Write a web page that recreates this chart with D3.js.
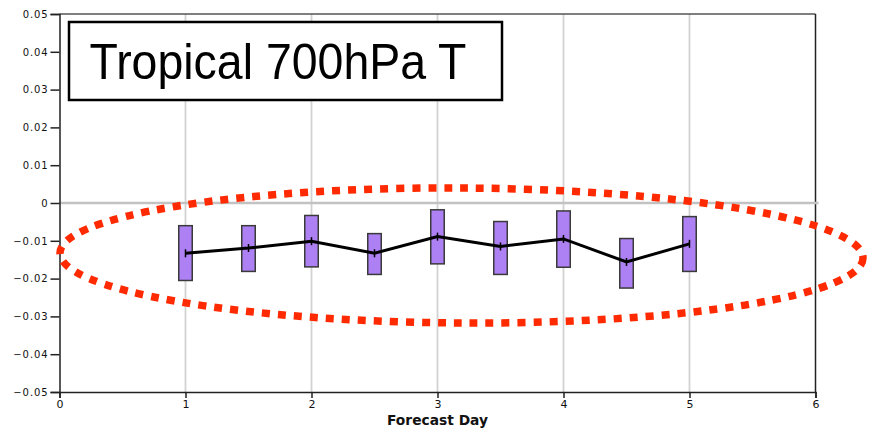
<!DOCTYPE html>
<html>
<head>
<meta charset="utf-8">
<script src="https://cdn.jsdelivr.net/npm/d3@7"></script>
<style>
  html, body { margin: 0; padding: 0; background: #fff; }
  svg { display: block; }
</style>
</head>
<body>
<svg id="chart" width="874" height="429"></svg>
<script>
// ---- data ----
const days   = [1, 1.5, 2, 2.5, 3, 3.5, 4, 4.5, 5];
const means  = [-0.0133, -0.0119, -0.0101, -0.0133, -0.0089, -0.0115, -0.0095, -0.0156, -0.0108];
const highs  = [-0.0060, -0.0060, -0.0033, -0.0081, -0.0018, -0.0049, -0.0021, -0.0094, -0.0036];
const lows   = [-0.0205, -0.0181, -0.0169, -0.0189, -0.0161, -0.0189, -0.0170, -0.0225, -0.0181];
const yTicks = [0.05, 0.04, 0.03, 0.02, 0.01, 0, -0.01, -0.02, -0.03, -0.04, -0.05];
const xTicks = [0, 1, 2, 3, 4, 5, 6];
const gridDays = [1, 2, 3, 4, 5];
const titleText = "Tropical 700hPa T";
const xLabel = "Forecast Day";

const svg = d3.select("#chart");
const x = d3.scaleLinear().domain([0, 6]).range([59.5, 815.5]);
const y = d3.scaleLinear().domain([-0.05, 0.05]).range([392, 14]);

// vertical grid lines
svg.append("g").selectAll("line").data(gridDays).join("line")
  .attr("x1", d => x(d)).attr("x2", d => x(d))
  .attr("y1", y(0.05)).attr("y2", y(-0.05))
  .attr("stroke", "#d2d2d2").attr("stroke-width", 1.8);

// frame top and right
svg.append("line").attr("x1", x(0)).attr("x2", x(6)).attr("y1", y(0.05)).attr("y2", y(0.05))
  .attr("stroke", "#555").attr("stroke-width", 1.5);
svg.append("line").attr("x1", x(6)).attr("x2", x(6)).attr("y1", y(0.05)).attr("y2", y(-0.05))
  .attr("stroke", "#222").attr("stroke-width", 1.5);

// zero line
svg.append("line").attr("x1", x(0)).attr("x2", x(6) + 3).attr("y1", y(0)).attr("y2", y(0))
  .attr("stroke", "#c2c2c2").attr("stroke-width", 2.5);

// axes
const yAxis = d3.axisLeft(y).tickValues(yTicks).tickSize(9).tickPadding(2)
  .tickFormat(d => d === 0 ? "0" : d3.format(".2f")(d));
const gy = svg.append("g").attr("transform", `translate(${x(0)},0)`).call(yAxis);
gy.select(".domain").attr("stroke", "#222").attr("stroke-width", 1.5);
gy.selectAll(".tick line").attr("stroke", "#222").attr("stroke-width", 1.5);
gy.selectAll(".tick text").attr("font-family", "DejaVu Sans, sans-serif").attr("font-size", 10)
  .attr("letter-spacing", 0.9).attr("fill", "#111");

const xAxis = d3.axisBottom(x).tickValues(xTicks).tickSize(6).tickPadding(2).tickFormat(d3.format("d"));
const gx = svg.append("g").attr("transform", `translate(0,${y(-0.05)})`).call(xAxis);
gx.select(".domain").attr("stroke", "#222").attr("stroke-width", 1.5);
gx.selectAll(".tick line").attr("stroke", "#222").attr("stroke-width", 1.5);
gx.selectAll(".tick text").attr("font-family", "DejaVu Sans, sans-serif").attr("font-size", 11).attr("fill", "#111");

svg.append("text").attr("x", 387).attr("y", 425)
  .attr("font-family", "DejaVu Sans, sans-serif").attr("font-weight", "bold").attr("font-size", 14)
  .attr("textLength", 101).attr("lengthAdjust", "spacingAndGlyphs").attr("fill", "#111")
  .text(xLabel);

// boxes
const bw = 13.5;
svg.append("g").selectAll("rect").data(days).join("rect")
  .attr("x", (d) => x(d) - bw / 2)
  .attr("y", (d, i) => y(highs[i]))
  .attr("width", bw)
  .attr("height", (d, i) => y(lows[i]) - y(highs[i]))
  .attr("fill", "#ad80f3").attr("stroke", "#3a3a3a").attr("stroke-width", 1.5);

// mean line
const line = d3.line().x(d => x(d[0])).y(d => y(d[1]));
svg.append("path").datum(days.map((d, i) => [d, means[i]]))
  .attr("d", line).attr("fill", "none").attr("stroke", "#000").attr("stroke-width", 3);
// + markers
const mk = svg.append("g");
mk.selectAll("line.v").data(days).join("line").attr("class", "v")
  .attr("x1", d => x(d)).attr("x2", d => x(d))
  .attr("y1", (d, i) => y(means[i]) - 4).attr("y2", (d, i) => y(means[i]) + 4)
  .attr("stroke", "#000").attr("stroke-width", 1.5);

// title box
svg.append("rect").attr("x", 69).attr("y", 22).attr("width", 433).attr("height", 78)
  .attr("fill", "#fff").attr("stroke", "#000").attr("stroke-width", 2.5);
svg.append("text").attr("x", 89.5).attr("y", 78.5)
  .attr("font-family", "Liberation Sans, Arial, sans-serif").attr("font-size", 50)
  .attr("textLength", 377).attr("lengthAdjust", "spacingAndGlyphs").attr("fill", "#000")
  .text(titleText);

// red dotted ellipse
svg.append("ellipse")
  .attr("cx", 461.5).attr("cy", 255.5).attr("rx", 401.5).attr("ry", 67.5)
  .attr("transform", "rotate(0.35 461.5 255.5)")
  .attr("fill", "none").attr("stroke", "#ff2a00").attr("stroke-width", 7.5)
  .attr("stroke-dasharray", "8,8");
</script>
</body>
</html>
